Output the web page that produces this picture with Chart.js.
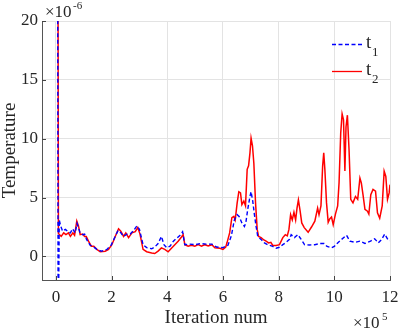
<!DOCTYPE html>
<html>
<head>
<meta charset="utf-8">
<script src="https://cdn.jsdelivr.net/npm/chart.js@4/dist/chart.umd.min.js"></script>
<style>
html,body{margin:0;padding:0;background:#fff;}
#wrap{width:399px;height:329px;position:relative;}
</style>
</head>
<body>
<div id="wrap"><canvas id="c" width="399" height="329"></canvas></div>
<script>
// x in units of 1e5 iterations, y in units of 1e-6
const xTicks = [0, 2, 4, 6, 8, 10, 12];
const yTicks = [0, 5, 10, 15, 20];
const seriesNames = ['t1', 't2'];

const t1X = [0.06,0.08,0.12,0.17,0.24,0.34,0.44,0.52,0.6,0.69,0.76,0.87,0.96,1.03,1.1,1.23,1.36,1.47,1.64,1.83,1.98,2.13,2.23,2.3,2.43,2.55,2.67,2.79,2.91,3.0,3.13,3.26,3.44,3.55,3.67,3.79,3.88,3.98,4.1,4.22,4.34,4.46,4.55,4.63,4.8,5.0,5.2,5.4,5.6,5.77,6.0,6.18,6.3,6.41,6.51,6.58,6.68,6.77,6.82,6.89,6.97,7.01,7.07,7.13,7.19,7.25,7.37,7.49,7.61,7.79,7.91,8.03,8.15,8.27,8.39,8.45,8.57,8.69,8.81,8.93,9.1,9.3,9.48,9.63,9.74,9.9,10.0,10.12,10.26,10.44,10.56,10.74,10.92,11.1,11.3,11.45,11.58,11.7,11.81,11.93,12.0];
const t1Y = [30,-8,3.1,2.6,2.15,2.3,2.1,2.0,2.35,2.0,2.8,2.0,1.85,1.9,1.45,0.95,0.8,0.6,0.45,0.6,0.95,1.7,2.2,2.1,1.7,1.9,1.9,2.2,2.6,2.3,1.0,0.75,0.65,0.8,1.1,1.7,1.0,0.75,0.87,1.3,1.55,1.8,2.1,1.0,1.05,1.0,1.1,1.05,1.05,0.8,0.75,0.95,1.75,3.1,3.55,3.4,2.85,2.55,2.85,4.0,5.1,5.5,4.7,3.55,2.55,1.7,1.45,1.15,1.0,0.85,0.7,0.78,1.0,1.2,1.45,1.85,1.6,1.85,1.45,1.0,0.97,1.0,1.1,1.1,0.85,0.73,0.85,1.15,1.45,1.8,1.3,1.2,1.3,1.1,1.3,1.5,1.15,1.45,1.9,1.4,1.35];

const t2X = [0.07,0.09,0.19,0.28,0.36,0.45,0.52,0.61,0.67,0.75,0.81,0.87,0.96,1.03,1.09,1.17,1.27,1.36,1.47,1.59,1.77,1.89,2.01,2.13,2.25,2.33,2.43,2.51,2.61,2.73,2.85,2.94,3.02,3.13,3.26,3.44,3.55,3.67,3.79,3.91,4.03,4.15,4.27,4.39,4.51,4.57,4.63,4.75,4.87,4.99,5.11,5.23,5.35,5.47,5.6,5.71,5.89,6.0,6.1,6.15,6.24,6.32,6.39,6.44,6.51,6.57,6.63,6.68,6.75,6.81,6.87,6.92,6.97,7.01,7.06,7.11,7.17,7.23,7.28,7.37,7.47,7.55,7.64,7.72,7.79,7.91,8.03,8.15,8.24,8.31,8.37,8.43,8.49,8.55,8.61,8.66,8.71,8.77,8.83,8.92,9.06,9.18,9.3,9.4,9.45,9.52,9.58,9.62,9.66,9.72,9.78,9.84,9.9,9.96,10.04,10.12,10.17,10.23,10.28,10.33,10.38,10.42,10.47,10.53,10.59,10.67,10.76,10.84,10.92,10.97,11.03,11.1,11.19,11.24,11.31,11.39,11.48,11.55,11.63,11.72,11.79,11.85,11.91,11.97,12.0];
const t2Y = [30,1.95,1.7,2.0,1.85,2.0,1.7,2.0,1.8,3.0,2.6,1.85,1.9,1.7,1.7,1.3,0.87,0.87,0.6,0.4,0.45,0.6,1.0,1.7,2.35,2.15,1.7,2.0,1.6,2.0,2.1,2.45,1.9,0.6,0.4,0.3,0.25,0.45,0.73,0.6,0.4,0.7,1.0,1.3,1.65,1.85,1.0,0.87,0.95,0.87,1.0,0.87,1.0,0.9,1.0,0.73,0.7,0.6,0.8,1.2,2.0,3.3,3.4,3.1,4.55,5.5,5.4,4.4,4.7,4.3,7.4,7.7,8.8,10.05,9.4,7.9,4.55,2.3,1.7,1.6,1.4,1.3,1.15,1.2,0.93,0.93,1.0,1.6,1.85,1.75,2.3,3.55,3.1,3.75,3.1,4.1,4.8,3.9,2.85,2.45,2.05,2.5,3.0,4.1,3.55,4.3,7.65,8.8,7.4,4.55,2.9,3.2,3.35,2.7,3.6,4.3,6.25,10.5,12.1,11.6,7.25,11.0,12.0,9.0,4.85,4.55,5.1,4.85,6.65,6.25,5.25,4.0,3.85,3.6,5.25,5.7,5.55,3.7,3.25,4.3,7.25,6.8,4.85,5.4,6.1];

const pts = (xs, ys) => xs.map((x, i) => ({x: x, y: ys[i]}));
const SERIF = '"Liberation Serif", "Times New Roman", serif';

const decor = {
  id: 'decor',
  afterDraw(chart) {
    const ctx = chart.ctx;
    const xs = chart.scales.x, ys = chart.scales.y;
    const a = chart.chartArea;
    ctx.save();
    // inward tick marks
    ctx.strokeStyle = '#444';
    ctx.lineWidth = 1;
    ctx.beginPath();
    xTicks.forEach(v => {
      const px = Math.round(xs.getPixelForValue(v)) + 0.5;
      ctx.moveTo(px, a.bottom); ctx.lineTo(px, a.bottom - 4);
    });
    yTicks.forEach(v => {
      const py = Math.round(ys.getPixelForValue(v)) + 0.5;
      ctx.moveTo(a.left, py); ctx.lineTo(a.left + 4, py);
    });
    ctx.stroke();
    // legend
    const ds = chart.data.datasets;
    const rows = [44, 71];
    ds.forEach((d, i) => {
      const y = rows[i] + 0.5;
      ctx.strokeStyle = d.borderColor;
      ctx.lineWidth = 1.3;
      ctx.setLineDash(d.borderDash || []);
      ctx.beginPath(); ctx.moveTo(332, y); ctx.lineTo(362, y); ctx.stroke();
      ctx.setLineDash([]);
      ctx.fillStyle = '#262626';
      ctx.textBaseline = 'alphabetic';
      ctx.textAlign = 'left';
      ctx.font = '19px ' + SERIF;
      ctx.fillText(seriesNames[i].charAt(0), 366, rows[i] + 4);
      ctx.font = '13px ' + SERIF;
      ctx.fillText(seriesNames[i].slice(1), 372, rows[i] + 12);
    });
    // exponent labels
    ctx.fillStyle = '#262626';
    ctx.font = '17px ' + SERIF;
    ctx.fillText('\u00d710', 45, 17);
    ctx.font = '11px ' + SERIF;
    ctx.fillText('-6', 73, 9);
    ctx.font = '17px ' + SERIF;
    ctx.fillText('\u00d710', 353, 328);
    ctx.font = '11px ' + SERIF;
    ctx.fillText('5', 382, 320);
    ctx.restore();
  }
};

new Chart(document.getElementById('c'), {
  type: 'line',
  data: {
    datasets: [
      {label: 't1', data: pts(t1X, t1Y), borderColor: '#0000ff', borderWidth: 1.4, borderDash: [4, 2.5], pointRadius: 0, tension: 0, fill: false, clip: 0},
      {label: 't2', data: pts(t2X, t2Y), borderColor: '#ff0000', borderWidth: 1.5, pointRadius: 0, tension: 0, fill: false, clip: 0}
    ]
  },
  plugins: [decor],
  options: {
    responsive: false,
    animation: false,
    events: [],
    layout: {padding: {top: 21, right: 9, left: 0, bottom: 0}},
    plugins: {legend: {display: false}, tooltip: {enabled: false}},
    scales: {
      x: {
        type: 'linear', min: -0.5, max: 12,
        afterBuildTicks: s => { s.ticks = xTicks.map(v => ({value: v})); },
        afterFit: s => { s.height = 49; s.paddingLeft = 0; s.paddingRight = 0; },
        grid: {color: '#e3e3e3', drawTicks: false, lineWidth: 1},
        border: {display: true, color: '#555', width: 1},
        ticks: {color: '#262626', font: {family: SERIF, size: 17}, padding: 7, maxRotation: 0, autoSkip: false},
        title: {display: true, text: 'Iteration num', color: '#262626', font: {family: SERIF, size: 19}, padding: {top: 0, bottom: 0}}
      },
      y: {
        type: 'linear', min: -2, max: 20,
        afterBuildTicks: s => { s.ticks = yTicks.map(v => ({value: v})); },
        afterFit: s => { s.width = 42; s.paddingTop = 0; s.paddingBottom = 0; },
        grid: {color: '#e3e3e3', drawTicks: false, lineWidth: 1},
        border: {display: true, color: '#555', width: 1},
        ticks: {color: '#262626', font: {family: SERIF, size: 17}, padding: 4},
        title: {display: true, text: 'Temperature', color: '#262626', font: {family: SERIF, size: 19}, padding: {top: -1, bottom: 0}}
      }
    }
  }
});
</script>
</body>
</html>
